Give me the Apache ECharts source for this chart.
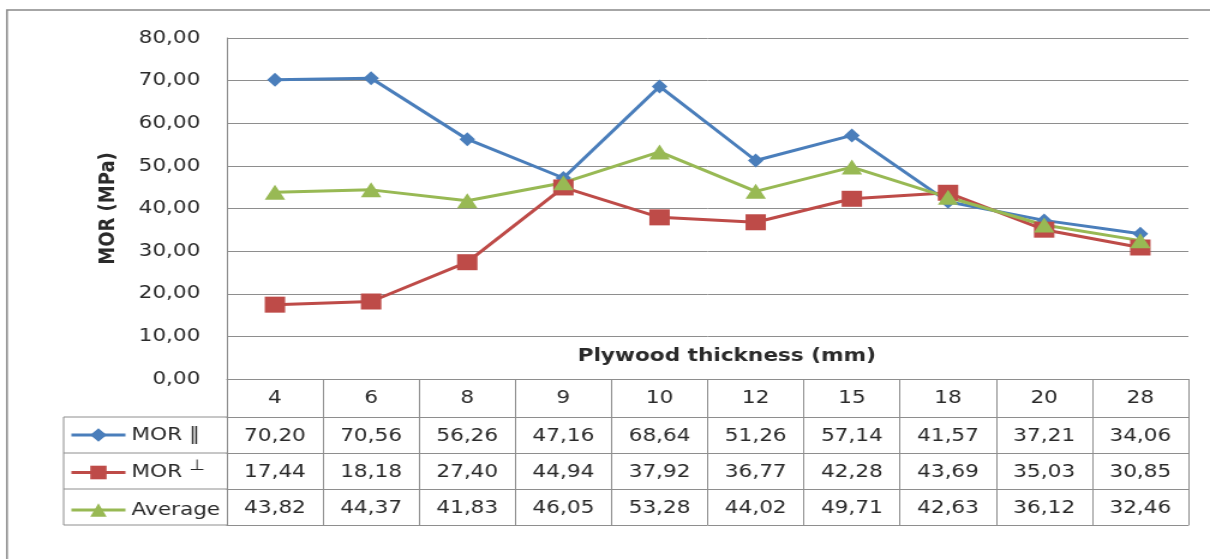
<!DOCTYPE html>
<html>
<head>
<meta charset="utf-8">
<script src="https://cdn.jsdelivr.net/npm/echarts@6/dist/echarts.min.js"></script>
<style>
  html, body { margin: 0; padding: 0; background: #fff; overflow: hidden; }
  #chart { width: 1008px; height: 559px; transform-origin: 0 0; }
</style>
</head>
<body>
<div id="chart"></div>
<script>
// Plywood thickness categories and MOR values (MPa)
const thickness = ['4', '6', '8', '9', '10', '12', '15', '18', '20', '28'];
const morParallel = [70.20, 70.56, 56.26, 47.16, 68.64, 51.26, 57.14, 41.57, 37.21, 34.06];
const morPerp = [17.44, 18.18, 27.40, 44.94, 37.92, 36.77, 42.28, 43.69, 35.03, 30.85];
const average = [43.82, 44.37, 41.83, 46.05, 53.28, 44.02, 49.71, 42.63, 36.12, 32.46];
const seriesNames = ['MOR \u2016', 'MOR \u22A5', 'Average'];

// Layout (the canvas is drawn narrower and widened horizontally)
const W = 1008;
const STRETCH = 1210 / W;
document.getElementById('chart').style.transform = 'scaleX(' + STRETCH + ')';
const gridLeft = 189, gridRight = 18, gridTop = 38, gridBottomY = 379;
const headerH = 38, rowH = 36;
const tableLeft = 53;

const FONT = 'DejaVu Sans';
const TEXT = '#2a2a2a';
const LINE = '#8e8e8e';
const COLORS = ['#4a7ebb', '#be4b48', '#98b954'];

const fmt = v => v.toFixed(2).replace('.', ',');

function rowAxis(values, offset, tickLen, showLabel) {
  return {
    type: 'category', position: 'bottom', gridIndex: 0, offset: offset,
    data: values, boundaryGap: true,
    axisLine: { show: true, lineStyle: { color: LINE, width: 1 } },
    axisTick: { show: tickLen > 0, length: tickLen, interval: 0, lineStyle: { color: LINE, width: 1 } },
    axisLabel: { show: showLabel, interval: 0, margin: 10, fontSize: 18, lineHeight: 18, color: TEXT, fontFamily: FONT },
    splitLine: { show: false }
  };
}

const rowLinesY = [gridBottomY + headerH, gridBottomY + headerH + rowH,
                   gridBottomY + headerH + 2 * rowH, gridBottomY + headerH + 3 * rowH];
const tableGraphics = rowLinesY.map(y => ({
  type: 'line', shape: { x1: tableLeft, y1: y, x2: gridLeft, y2: y },
  style: { stroke: LINE, lineWidth: 1 }, silent: true
}));
tableGraphics.push({
  type: 'line', shape: { x1: tableLeft, y1: rowLinesY[0], x2: tableLeft, y2: rowLinesY[3] },
  style: { stroke: LINE, lineWidth: 1 }, silent: true
});
// chart frame
tableGraphics.push({
  type: 'rect', shape: { x: 5.8, y: 10, width: 2000, height: 2000 },
  style: { fill: null, stroke: '#898989', lineWidth: 1.5 }, silent: true, z: -1
});

const chart = echarts.init(document.getElementById('chart'), null, { renderer: 'canvas' });
chart.setOption({
  animation: false,
  backgroundColor: '#fff',
  grid: { left: gridLeft, right: gridRight, top: gridTop, bottom: 559 - gridBottomY, containLabel: false },
  legend: {
    orient: 'vertical', left: 58, top: 426, padding: 0,
    itemWidth: 45, itemHeight: 17, itemGap: 15,
    data: seriesNames,
    lineStyle: { width: 3 },
    formatter: n => n === seriesNames[1] ? '{a|MOR }{b|\u22A5}' : n,
    textStyle: {
      fontSize: 18, lineHeight: 18, color: TEXT, fontFamily: FONT,
      rich: {
        a: { fontSize: 18, lineHeight: 18, color: TEXT, fontFamily: FONT },
        b: { fontSize: 15, lineHeight: 18, color: TEXT, fontFamily: FONT, padding: [0, 0, 12, 0] }
      }
    }
  },
  xAxis: [
    {
      type: 'category', position: 'bottom', data: thickness, boundaryGap: true,
      name: 'Plywood thickness (mm)', nameLocation: 'middle', nameGap: -33,
      nameTextStyle: { fontSize: 18, fontWeight: 'bold', color: TEXT, fontFamily: FONT, lineHeight: 20, padding: [0, 0, 0, 32] },
      axisLine: { show: true, lineStyle: { color: LINE, width: 1 } },
      axisTick: { show: true, length: headerH, interval: 0, lineStyle: { color: LINE, width: 1 } },
      axisLabel: { interval: 0, margin: 10, fontSize: 18, lineHeight: 18, color: TEXT, fontFamily: FONT },
      splitLine: { show: false }
    },
    rowAxis(morParallel.map(fmt), headerH, rowH, true),
    rowAxis(morPerp.map(fmt), headerH + rowH, rowH, true),
    rowAxis(average.map(fmt), headerH + 2 * rowH, rowH, true),
    rowAxis(thickness, headerH + 3 * rowH, 0, false)
  ],
  yAxis: {
    type: 'value', min: 0, max: 80, interval: 10,
    name: 'MOR (MPa)', nameLocation: 'middle', nameGap: 90,
    nameTextStyle: { fontSize: 18, fontWeight: 'bold', color: TEXT, fontFamily: FONT },
    axisLine: { show: true, lineStyle: { color: LINE, width: 1 } },
    axisTick: { show: false },
    axisLabel: { margin: 22, fontSize: 18, color: TEXT, fontFamily: FONT, formatter: v => fmt(v) },
    splitLine: { show: true, lineStyle: { color: LINE, width: 1 } }
  },
  graphic: tableGraphics,
  series: [
    { name: seriesNames[0], type: 'line', data: morParallel, symbol: 'diamond', symbolSize: [13, 14],
      lineStyle: { color: COLORS[0], width: 3 }, itemStyle: { color: COLORS[0] } },
    { name: seriesNames[1], type: 'line', data: morPerp, symbol: 'rect', symbolSize: [17, 16],
      lineStyle: { color: COLORS[1], width: 3 }, itemStyle: { color: COLORS[1] } },
    { name: seriesNames[2], type: 'line', data: average, symbol: 'triangle', symbolSize: [17, 15],
      lineStyle: { color: COLORS[2], width: 3 }, itemStyle: { color: COLORS[2] } }
  ]
});
</script>
</body>
</html>
